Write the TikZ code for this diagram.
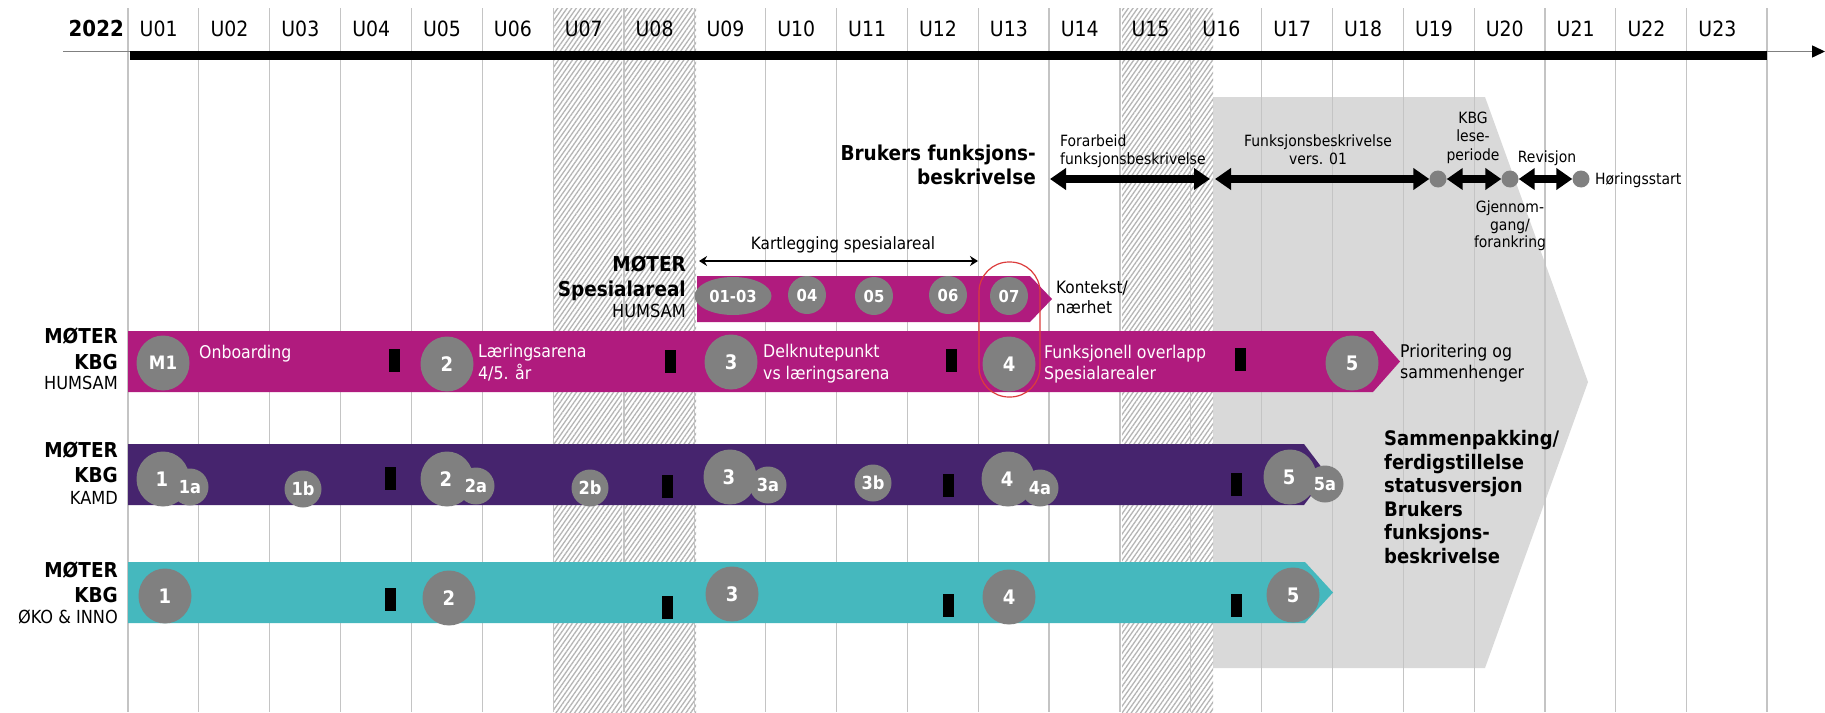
\documentclass[tikz,border=0pt]{standalone}
\usepackage{fontspec}
\setmainfont{DejaVu Sans Condensed}
\usetikzlibrary{arrows.meta,patterns.meta,shapes.geometric}
\definecolor{mag}{HTML}{B01B7E}
\definecolor{pur}{HTML}{46246E}
\definecolor{tealc}{HTML}{45B8BE}
\definecolor{cgray}{HTML}{808080}
\definecolor{lgray}{HTML}{D9D9D9}
\definecolor{gridc}{HTML}{C4C4C4}
\definecolor{redc}{HTML}{DC3C3C}
\newcommand\fz[1]{\fontsize{#1}{#1}\selectfont}
\begin{document}
\begin{tikzpicture}[x=1pt,y=-1pt,
  txt/.style={inner sep=0pt, anchor=base west},
  txr/.style={inner sep=0pt, anchor=base east},
  txc/.style={inner sep=0pt, anchor=base},
  bigc/.style={ellipse, fill=cgray, inner sep=0pt, minimum width=53pt, minimum height=55pt, text=white, font=\bfseries\fz{20}},
  smc/.style={circle, fill=cgray, inner sep=0pt, minimum size=37pt, text=white, font=\bfseries\fz{18}},
  spc/.style={circle, fill=cgray, inner sep=0pt, minimum size=38pt, text=white, font=\bfseries\fz{16.5}},
  blk/.style={fill=black, inner sep=0pt, minimum width=11pt, minimum height=23pt},
  dotc/.style={circle, fill=cgray, inner sep=0pt, minimum size=17pt},
  bigarr/.style={line width=8pt, {Triangle[length=16pt,width=21pt]}-{Triangle[length=16pt,width=21pt]}},
  hatch/.style={pattern={Lines[angle=55,distance=3.8pt,line width=1.3pt]}, pattern color=gray!58},
  lab/.style={font=\fz{17.5}},
  slab/.style={font=\fz{15.5}},
  blab/.style={font=\bfseries\fz{20.5}},
  rlab/.style={font=\fz{18}}]
\useasboundingbox (0,0) rectangle (1825,712);
\fill[white] (0,0) rectangle (1825,712);
% light gray process arrow
\fill[lgray] (1213,97) -- (1485,97) -- (1588,382) -- (1485,668) -- (1213,668) -- cycle;
% holiday hatching
\fill[hatch] (553,8) rectangle (622,712);
\fill[hatch] (625,8) rectangle (696,712);
\fill[hatch] (1122,8) rectangle (1213,712);
% grid
\foreach \k in {0,...,22} \draw[gridc, line width=1.2pt] ({128+70.85*\k},8) -- ({128+70.85*\k},712);
\draw[gridc, line width=1.2pt] (1767,8) -- (1767,712);
% axis
\coordinate (axL) at (63,51.5);
\coordinate (axR) at (1825,51.5);
\draw[cgray, line width=1.5pt, -{Triangle[length=13pt,width=12pt,color=black]}] (axL) -- (axR);
\fill[black] (130,51) rectangle (1767,59.5);
% header
\node[txr, font=\bfseries\fz{22}] (yr) at (124,36.7) {2022};
\foreach \w [count=\k from 0] in {01,02,03,04,05,06,07,08,09,10,11,12,13,14,15,16,17,18,19,20,21,22,23}
  \node[txt, font=\fz{21}] (w\w) at ({128+70.85*\k+11.5},36.7) {U\w};
% bars
\fill[mag] (697,276) -- (1030,276) -- (1052,299) -- (1030,322) -- (697,322) -- cycle;
\fill[mag] (128,331) -- (1373,331) -- (1400,361.5) -- (1373,392) -- (128,392) -- cycle;
\fill[pur] (128,444) -- (1304,444) -- (1327,474.5) -- (1304,505) -- (128,505) -- cycle;
\fill[tealc] (128,562) -- (1305,562) -- (1333,592.5) -- (1305,623) -- (128,623) -- cycle;
% small black markers
\foreach \n/\x/\y in {hb1/394/360, hb2/670/361, hb3/951/360, hb4/1240/359,
                     kb1/390/478, kb2/667/486, kb3/948/485, kb4/1236/484,
                     tb1/390/599, tb2/667/607, tb3/948/605, tb4/1236/605}
  \node[blk] (\n) at (\x,\y) {};
% spesialareal meetings
\node[ellipse, fill=cgray, inner sep=0pt, minimum width=77pt, minimum height=38pt, text=white, font=\bfseries\fz{16.5}] (s1) at (733,296) {01-03};
\node[spc] (s4) at (807,295) {04};
\node[spc] (s5) at (874,296) {05};
\node[spc] (s6) at (948,295) {06};
\node[spc] (s7) at (1009,296) {07};
% HUMSAM
\node[bigc, font=\bfseries\fz{18.5}] (h1) at (163,363) {M1};
\node[bigc] (h2) at (447,364) {2};
\node[bigc] (h3) at (731,362) {3};
\node[bigc] (h4) at (1009,364) {4};
\node[bigc] (h5) at (1352,363) {5};
% KAMD
\node[bigc] (k1) at (163,479) {};
\node[smc] (k1a) at (190,487) {1a};
\node[smc] (k1b) at (303,489) {1b};
\node[bigc] (k2) at (447,479) {};
\node[smc] (k2a) at (476,486) {2a};
\node[smc] (k2b) at (590,488) {2b};
\node[bigc] (k3) at (730,477) {};
\node[smc] (k3a) at (768,485) {3a};
\node[smc] (k3b) at (873,483) {3b};
\node[bigc] (k4) at (1008,479) {};
\node[smc] (k4a) at (1040,488) {4a};
\node[bigc] (k5) at (1290,477) {};
\node[smc] (k5a) at (1325,484) {5a};
\foreach \n/\t in {k1/1,k2/2,k3/3,k4/4,k5/5}
  \node[text=white, font=\bfseries\fz{20}, inner sep=0pt, xshift=-1pt] at (\n) {\t};
% ØKO & INNO
\node[bigc] (t1) at (165,596) {1};
\node[bigc] (t2) at (449,598) {2};
\node[bigc] (t3) at (732,594) {3};
\node[bigc] (t4) at (1009,597) {4};
\node[bigc] (t5) at (1293,595) {5};
% red highlight
\draw[redc, line width=1.2pt, rounded corners=30pt] (979,262) rectangle (1040,397);
% row labels
\node[txr, blab] (l1a) at (118,343.5) {MØTER};
\node[txr, blab] (l1b) at (118,369) {KBG};
\node[txr, rlab] (l1c) at (118,389.5) {HUMSAM};
\node[txr, blab] (l2a) at (118,457) {MØTER};
\node[txr, blab] (l2b) at (118,482) {KBG};
\node[txr, rlab] (l2c) at (118,504) {KAMD};
\node[txr, blab] (l3a) at (118,577) {MØTER};
\node[txr, blab] (l3b) at (118,602) {KBG};
\node[txr, rlab] (l3c) at (118,623) {ØKO \& INNO};
\node[txr, blab] (lsa) at (686,271.5) {MØTER};
\node[txr, blab] (lsb) at (686,296) {Spesialareal};
\node[txr, rlab] (lsc) at (686,317.5) {HUMSAM};
% texts inside HUMSAM bar
\node[txt, lab, text=white] (o1) at (199,358.5) {Onboarding};
\node[txt, lab, text=white] (o2a) at (478,357.3) {Læringsarena};
\node[txt, lab, text=white] (o2b) at (478,379.3) {4/5. år};
\node[txt, lab, text=white] (o3a) at (763,357.3) {Delknutepunkt};
\node[txt, lab, text=white] (o3b) at (763,379.3) {vs læringsarena};
\node[txt, lab, text=white] (o4a) at (1044,358.3) {Funksjonell overlapp};
\node[txt, lab, text=white] (o4b) at (1044,379.3) {Spesialarealer};
\node[txt, lab] (o5a) at (1400,357.3) {Prioritering og};
\node[txt, lab] (o5b) at (1400,378.3) {sammenhenger};
\node[txt, font=\fz{17}] (kta) at (1056,293.5) {Kontekst/};
\node[txt, font=\fz{17}] (ktb) at (1056,313) {nærhet};
% Kartlegging
\coordinate (ka1) at (699,261);
\coordinate (ka2) at (978,261);
\draw[line width=2.6pt, {Stealth[length=8pt,width=10pt]}-{Stealth[length=8pt,width=10pt]}] (ka1) -- (ka2);
\node[txc, font=\fz{17}] (kt) at (843,249.5) {Kartlegging spesialareal};
% Brukers funksjonsbeskrivelse
\node[txr, blab] (bf1) at (1036,160.4) {Brukers funksjons-};
\node[txr, blab] (bf2) at (1036,184.4) {beskrivelse};
\coordinate (f1) at (1050,179);
\coordinate (f2) at (1210,179);
\coordinate (f3) at (1215,179);
\node[dotc] (c1) at (1438,179) {};
\node[dotc] (c2) at (1510,179) {};
\node[dotc] (c3) at (1581,179) {};
\draw[bigarr] (f1) -- (f2);
\draw[bigarr] (f3) -- (c1);
\draw[bigarr] (c1) -- (c2);
\draw[bigarr] (c2) -- (c3);
\node[txt, slab] (fa1) at (1060,146.5) {Forarbeid};
\node[txt, slab] (fa2) at (1060,164) {funksjonsbeskrivelse};
\node[txc, slab] (fv1) at (1318,146.5) {Funksjonsbeskrivelse};
\node[txc, slab] (fv2) at (1318,164) {vers. 01};
\node[txc, slab] (kl1) at (1473,123) {KBG};
\node[txc, slab] (kl2) at (1473,141.5) {lese-};
\node[txc, slab] (kl3) at (1473,160) {periode};
\node[txc, slab] (rv) at (1547,162) {Revisjon};
\node[txc, slab] (gj1) at (1510,212.5) {Gjennom-};
\node[txc, slab] (gj2) at (1510,230) {gang/};
\node[txc, slab] (gj3) at (1510,247.5) {forankring};
\node[txt, slab] (hs) at (1595,184.5) {Høringsstart};
% Sammenpakking
\node[txt, font=\bfseries\fz{20}] (sp1) at (1384,445.5) {Sammenpakking/};
\node[txt, font=\bfseries\fz{20}] (sp2) at (1384,469) {ferdigstillelse};
\node[txt, font=\bfseries\fz{20}] (sp3) at (1384,492.5) {statusversjon};
\node[txt, font=\bfseries\fz{20}] (sp4) at (1384,516) {Brukers};
\node[txt, font=\bfseries\fz{20}] (sp5) at (1384,539.5) {funksjons-};
\node[txt, font=\bfseries\fz{20}] (sp6) at (1384,563) {beskrivelse};
\end{tikzpicture}
\end{document}
